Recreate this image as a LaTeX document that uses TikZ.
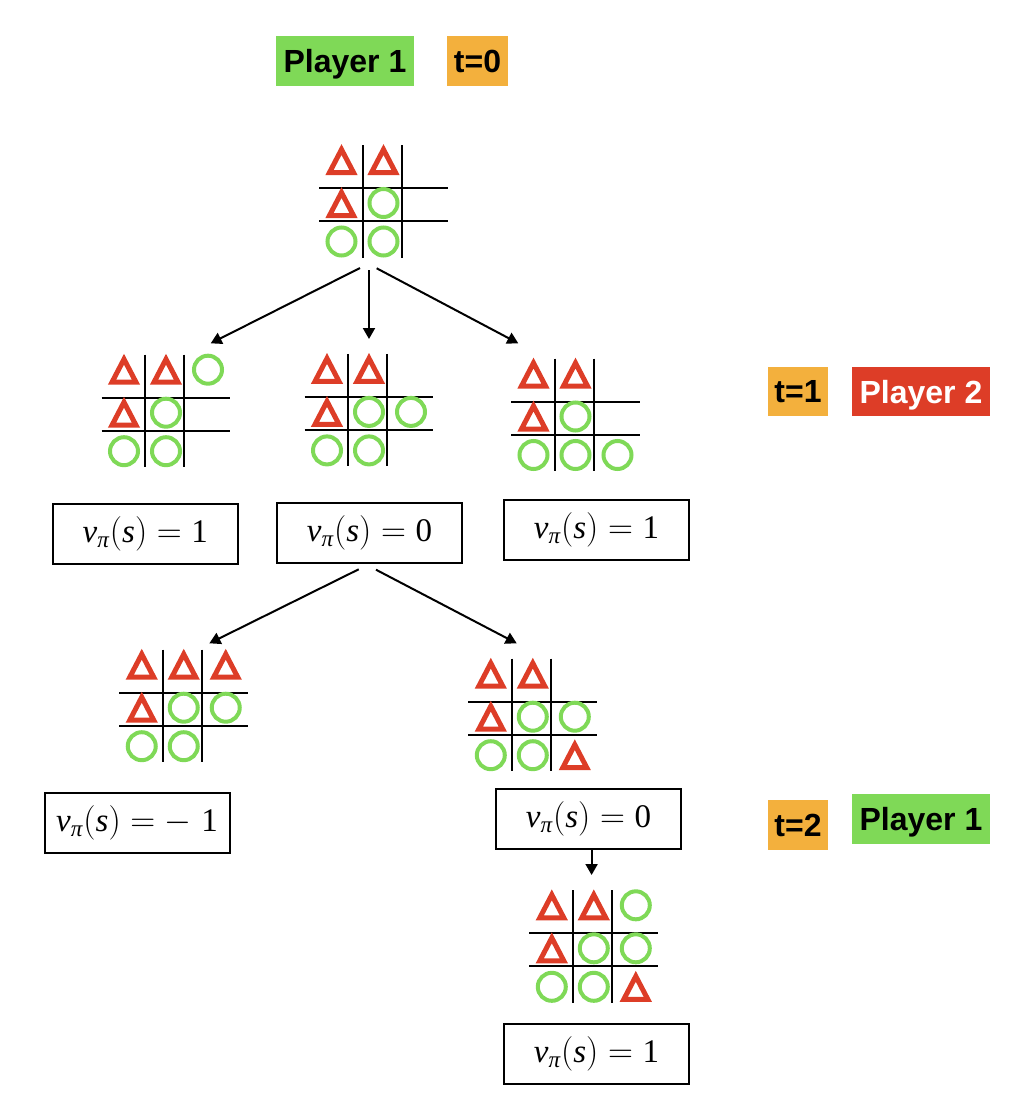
\documentclass[tikz,border=0pt]{standalone}
\usepackage{amsmath}
\usepackage{fontspec}
\setsansfont{Liberation Sans}
\newfontfamily\valfont{Liberation Serif}
\usetikzlibrary{arrows.meta}

\definecolor{ringgreen}{RGB}{127,217,87}
\definecolor{trired}{RGB}{221,61,39}
\definecolor{tagorange}{RGB}{243,176,61}

\newcommand{\vnum}[1]{\text{\valfont #1}}
\newcommand{\val}[1]{$\text{\valfont\itshape v}_{\text{\valfont\itshape π}}(\text{\valfont\itshape s}) = #1$}

\tikzset{
  gridline/.style={line width=1pt},
  tri/.pic={\draw[trired,line width=2.5pt] (0,-10.5) -- (-12,12.5) -- (12,12.5) -- cycle;},
  ring/.pic={\draw[ringgreen,line width=2pt] (0,0) circle (14);},
  tag/.style={inner sep=0pt,minimum height=25pt,text depth=0pt,font=\sffamily\bfseries\fontsize{16}{19}\selectfont},
  value/.style={draw,line width=1pt,minimum width=92.5pt,minimum height=30pt,font=\fontsize{16.5}{20}\selectfont},
  move/.style={line width=1pt,-{Triangle[length=5.5pt,width=6pt]}}
}

% board at (x,y), marks as col/row/mark
\newcommand{\board}[3]{%
  \begin{scope}[shift={(#1,#2)}]
    \draw[gridline] (-19.5,-59.5) -- (-19.5,53) (19.5,-59.5) -- (19.5,53)
      (-63,-16.5) -- (65.5,-16.5) (-63,16.5) -- (65.5,16.5);
    \foreach \col/\row/\mk in {#3}
      \pic at ({\col*42+1.5},{\row*40.75-1.5-2.25*\row*\row}) {\mk};
  \end{scope}}

\begin{document}
\begin{tikzpicture}[x=0.5pt,y=-0.5pt]
\useasboundingbox (0,0) rectangle (1014,1104);

% players and time steps
\node[tag,fill=ringgreen,minimum width=69pt] (p1a) at (345,61) {Player 1};
\node[tag,fill=tagorange,minimum width=30.5pt] (t0) at (477.5,61) {t=0};
\node[tag,fill=tagorange,minimum width=30pt,minimum height=24.5pt] (t1) at (798,391.7) {t=1};
\node[tag,fill=trired,text=white,minimum width=69pt,minimum height=24.5pt] (p2) at (921,391.7) {Player 2};
\node[tag,fill=tagorange,minimum width=30pt] (t2) at (798,825) {t=2};
\node[tag,fill=ringgreen,minimum width=69pt] (p1b) at (921,819) {Player 1};

% boards
\board{382}{204.5}{-1/-1/tri,0/-1/tri,-1/0/tri,0/0/ring,-1/1/ring,0/1/ring}
\board{164.5}{414.2}{-1/-1/tri,0/-1/tri,1/-1/ring,-1/0/tri,0/0/ring,-1/1/ring,0/1/ring}
\board{367.5}{413.4}{-1/-1/tri,0/-1/tri,-1/0/tri,0/0/ring,1/0/ring,-1/1/ring,0/1/ring}
\board{574}{418}{-1/-1/tri,0/-1/tri,-1/0/tri,0/0/ring,-1/1/ring,0/1/ring,1/1/ring}
\board{182.25}{709.2}{-1/-1/tri,0/-1/tri,1/-1/tri,-1/0/tri,0/0/ring,1/0/ring,-1/1/ring,0/1/ring}
\board{531.3}{718.2}{-1/-1/tri,0/-1/tri,-1/0/tri,0/0/ring,1/0/ring,-1/1/ring,0/1/ring,1/1/tri}
\board{592.3}{949.8}{-1/-1/tri,0/-1/tri,1/-1/ring,-1/0/tri,0/0/ring,1/0/ring,-1/1/ring,0/1/ring,1/1/tri}

% values
\node[value] (v1) at (145.3,534) {\val{\vnum{1}}};
\node[value] (v2) at (369.5,532.7) {\val{\vnum{0}}};
\node[value] (v3) at (596.5,530) {\val{\vnum{1}}};
\node[value] (v4) at (137,823) {\val{-\;\vnum{1}}};
\node[value] (v5) at (588.5,819) {\val{\vnum{0}}};
\node[value] (v6) at (596.5,1054) {\val{\vnum{1}}};

% moves
\coordinate (s1) at (360,268);   \coordinate (e1) at (210.7,343.3);
\coordinate (s2) at (369,270);   \coordinate (e2) at (369,339);
\coordinate (s3) at (376.7,268.3); \coordinate (e3) at (518.3,343.3);
\coordinate (s4) at (358.7,569.3); \coordinate (e4) at (209.4,643.3);
\coordinate (s5) at (376,569.7);   \coordinate (e5) at (516.7,643.3);
\coordinate (s6) at (591.6,849);   \coordinate (e6) at (591.6,875);
\draw[move] (s1) -- (e1);
\draw[move] (s2) -- (e2);
\draw[move] (s3) -- (e3);
\draw[move] (s4) -- (e4);
\draw[move] (s5) -- (e5);
\draw[move] (s6) -- (e6);
\end{tikzpicture}
\end{document}
